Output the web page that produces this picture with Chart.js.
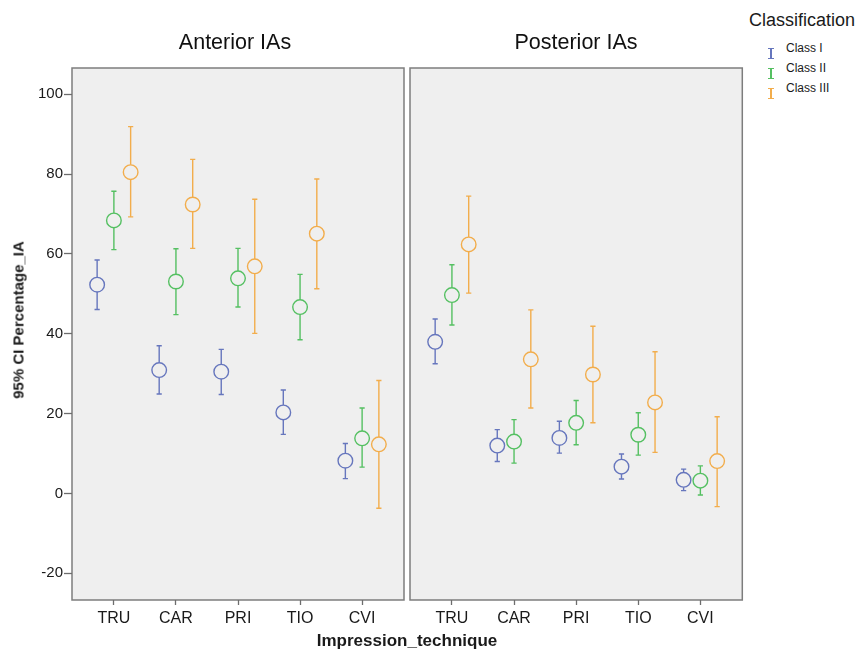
<!DOCTYPE html>
<html>
<head>
<meta charset="utf-8">
<script src="https://cdn.jsdelivr.net/npm/chart.js@4/dist/chart.umd.min.js"></script>
<style>
  html, body { margin: 0; padding: 0; background: #fff; }
  body { width: 857px; height: 652px; position: relative; overflow: hidden; font-family: "Liberation Sans", Arial, sans-serif; color: #1a1a1a; }
  canvas { position: absolute; top: 0; }
  #cA { left: 0; }
  #cB { left: 406px; }
  .ptitle { position: absolute; top: 42px; transform: translate(-50%, -50%); font-size: 21.5px; white-space: nowrap; color: #111; }
  .ytitle { position: absolute; left: 18px; top: 320px; transform: translate(-50%, -50%) rotate(-90deg); font-weight: bold; font-size: 15px; white-space: nowrap; }
  .xtitle { position: absolute; left: 407px; top: 641px; transform: translate(-50%, -50%); font-weight: bold; font-size: 17px; white-space: nowrap; }
  .legend { position: absolute; left: 749px; top: 9px; }
  .legend .lt { font-size: 18px; line-height: 22px; }
  .legend .item { position: absolute; left: 0; font-size: 12px; white-space: nowrap; }
  .legend .item .ic { position: absolute; left: 19px; width: 6px; height: 9px; border-top: 1.3px solid; border-bottom: 1.3px solid; }
  .legend .item .ic::after { content: ""; position: absolute; left: 2.4px; top: 0; width: 1.3px; height: 100%; background: currentColor; }
  .legend .item .tx { position: absolute; left: 37px; top: -7px; }
</style>
</head>
<body>
<canvas id="cA" width="406" height="652"></canvas>
<canvas id="cB" width="340" height="652"></canvas>
<div class="ptitle" id="t0" style="left:235px"></div>
<div class="ptitle" id="t1" style="left:576px"></div>
<div class="ytitle">95% CI Percentage_IA</div>
<div class="xtitle">Impression_technique</div>
<div class="legend">
  <div class="lt">Classification</div>
</div>
<script>
// ---- data ----
const categories = ['TRU', 'CAR', 'PRI', 'TIO', 'CVI'];
const classNames = ['Class I', 'Class II', 'Class III'];
const panelTitles = ['Anterior IAs', 'Posterior IAs'];
const yTicks = [-20, 0, 20, 40, 60, 80, 100];

// Anterior IAs
const antMean1 = [52.3, 30.9, 30.5, 20.3, 8.2];
const antLow1  = [46.1, 24.9, 24.8, 14.8, 3.7];
const antHigh1 = [58.5, 37.0, 36.1, 25.9, 12.5];
const antMean2 = [68.4, 53.1, 53.9, 46.7, 13.8];
const antLow2  = [61.1, 44.8, 46.7, 38.5, 6.6];
const antHigh2 = [75.7, 61.3, 61.4, 54.9, 21.4];
const antMean3 = [80.5, 72.4, 56.9, 65.1, 12.3];
const antLow3  = [69.3, 61.4, 40.1, 51.3, -3.7];
const antHigh3 = [91.9, 83.7, 73.7, 78.8, 28.3];

// Posterior IAs
const postMean1 = [38.0, 12.0, 13.9, 6.7, 3.4];
const postLow1  = [32.5, 8.0, 10.1, 3.6, 0.7];
const postHigh1 = [43.7, 16.0, 18.1, 9.9, 6.1];
const postMean2 = [49.7, 13.0, 17.7, 14.7, 3.2];
const postLow2  = [42.2, 7.6, 12.2, 9.6, -0.4];
const postHigh2 = [57.3, 18.5, 23.3, 20.2, 6.9];
const postMean3 = [62.4, 33.6, 29.8, 22.8, 8.1];
const postLow3  = [50.2, 21.4, 17.7, 10.3, -3.3];
const postHigh3 = [74.5, 46.0, 41.9, 35.5, 19.2];

// ---- styles ----
const colors = ['#6676bd', '#55c062', '#f2ad4c'];
const offsets = [-0.27, 0, 0.27];
const FONT = '"Liberation Sans", Arial, sans-serif';
const R = 7.3;

document.getElementById('t0').textContent = panelTitles[0];
document.getElementById('t1').textContent = panelTitles[1];

// legend
const legend = document.querySelector('.legend');
[39, 59, 79].forEach((top, i) => {
  const d = document.createElement('div');
  d.className = 'item';
  d.style.top = top + 'px';
  d.style.color = colors[i];
  d.innerHTML = '<span class="ic"></span><span class="tx" style="color:#1a1a1a">' + classNames[i] + '</span>';
  legend.appendChild(d);
});

const panelPlugin = {
  id: 'panel',
  beforeDraw(chart) {
    const { ctx, chartArea: a } = chart;
    ctx.save();
    ctx.fillStyle = '#efefef';
    ctx.fillRect(a.left, a.top, a.right - a.left, a.bottom - a.top);
    ctx.strokeStyle = '#7d7d7d';
    ctx.lineWidth = 1.5;
    ctx.strokeRect(a.left, a.top, a.right - a.left, a.bottom - a.top);
    ctx.restore();
  },
  afterDatasetsDraw(chart) {
    const { ctx } = chart;
    const ys = chart.scales.y;
    chart.data.datasets.forEach((ds, di) => {
      const meta = chart.getDatasetMeta(di);
      ctx.save();
      ctx.strokeStyle = ds.borderColor;
      ctx.lineWidth = 1.4;
      meta.data.forEach((pt, i) => {
        const x = pt.x, yc = pt.y;
        const yh = ys.getPixelForValue(ds.errHigh[i]);
        const yl = ys.getPixelForValue(ds.errLow[i]);
        ctx.beginPath();
        if (yh < yc - R) { ctx.moveTo(x, yh); ctx.lineTo(x, yc - R); }
        if (yl > yc + R) { ctx.moveTo(x, yc + R); ctx.lineTo(x, yl); }
        ctx.moveTo(x - 2.6, yh); ctx.lineTo(x + 2.6, yh);
        ctx.moveTo(x - 2.6, yl); ctx.lineTo(x + 2.6, yl);
        ctx.stroke();
      });
      ctx.restore();
    });
  }
};

function makeDatasets(means, lows, highs) {
  return means.map((m, k) => ({
    label: classNames[k],
    data: m.map((v, i) => ({ x: i + offsets[k], y: v })),
    errLow: lows[k],
    errHigh: highs[k],
    borderColor: colors[k],
    backgroundColor: 'rgba(0,0,0,0)',
    pointRadius: R,
    pointBorderWidth: 1.4,
    pointHoverRadius: R,
    showLine: false
  }));
}

function makeChart(id, datasets, showY, padL, padR) {
  return new Chart(document.getElementById(id), {
    type: 'scatter',
    data: { datasets },
    plugins: [panelPlugin],
    options: {
      responsive: false,
      animation: false,
      devicePixelRatio: 1,
      layout: { autoPadding: false, padding: { left: padL, right: padR, top: 68, bottom: 0 } },
      plugins: {
        legend: { display: false },
        tooltip: { enabled: false },
        title: { display: false }
      },
      scales: {
        x: {
          type: 'linear', min: -0.675, max: 4.675,
          afterBuildTicks: s => { s.ticks = categories.map((c, i) => ({ value: i })); },
          afterFit: s => { s.height = 52; s.paddingLeft = 0; s.paddingRight = 0; },
          ticks: { callback: v => categories[v], color: '#1a1a1a', font: { family: FONT, size: 16 }, padding: 4, autoSkip: false, maxRotation: 0 },
          grid: { drawOnChartArea: false, drawTicks: true, tickLength: 5, tickColor: '#6d6d6d', tickWidth: 1.3 },
          border: { display: false }
        },
        y: {
          display: showY,
          min: -26.7, max: 106.6,
          afterBuildTicks: s => { s.ticks = yTicks.map(v => ({ value: v })); },
          afterFit: s => { s.width = showY ? 72 : 0; s.paddingTop = 0; s.paddingBottom = 0; },
          ticks: { color: '#1a1a1a', font: { family: FONT, size: 15 }, padding: 1 },
          grid: { drawOnChartArea: false, drawTicks: true, tickLength: 8, tickColor: '#6d6d6d', tickWidth: 1.3 },
          border: { display: false }
        }
      }
    }
  });
}

makeChart('cA',
  makeDatasets([antMean1, antMean2, antMean3], [antLow1, antLow2, antLow3], [antHigh1, antHigh2, antHigh3]),
  true, 0, 2);
makeChart('cB',
  makeDatasets([postMean1, postMean2, postMean3], [postLow1, postLow2, postLow3], [postHigh1, postHigh2, postHigh3]),
  false, 4, 3.7);
</script>
</body>
</html>
